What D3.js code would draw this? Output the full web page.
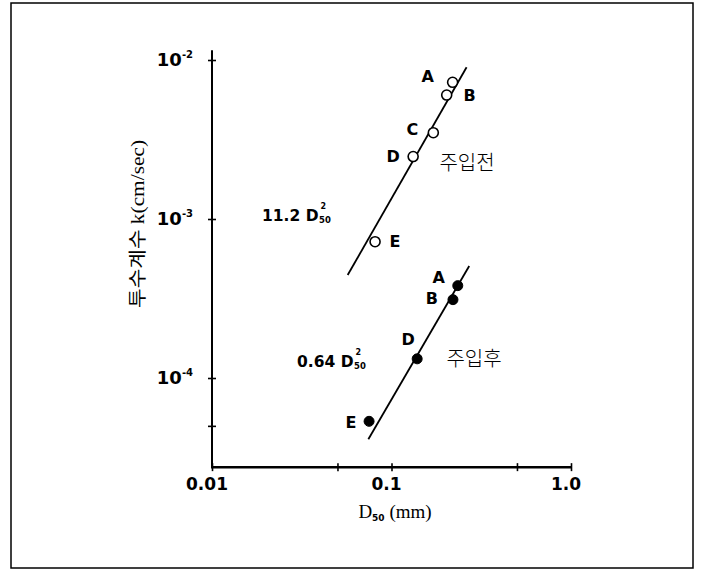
<!DOCTYPE html>
<html>
<head>
<meta charset="utf-8">
<script src="https://cdn.jsdelivr.net/npm/d3@7"></script>
<style>
  html, body { margin: 0; padding: 0; background: #fff; }
  svg { display: block; }
</style>
</head>
<body>
<svg id="chart" width="704" height="576"></svg>
<script>
// ---------- data ----------
const xTickValues = [0.01, 0.05, 0.1, 0.5, 1.0];
const xTickLabels = ["0.01", "", "0.1", "", "1.0"];
const yTickValues = [1e-2, 1e-3, 1e-4, 5e-5];
const yTickExponents = ["-2", "-3", "-4", ""];
const xExtent = [0.01, 1.0];
const yExtent = [2.75e-5, 1.15e-2];

const beforeLabels = ["A", "B", "C", "D", "E"];
const beforeD50 = [0.219, 0.203, 0.171, 0.132, 0.081];
const beforeK = [7.24e-3, 6.02e-3, 3.49e-3, 2.47e-3, 7.2e-4];

const afterLabels = ["A", "B", "D", "E"];
const afterD50 = [0.234, 0.220, 0.139, 0.075];
const afterK = [3.81e-4, 3.11e-4, 1.32e-4, 5.34e-5];

const fitBeforeD50 = [0.057, 0.262];
const fitBeforeK = [4.44e-4, 9.0e-3];
const fitAfterD50 = [0.0743, 0.271];
const fitAfterK = [4.12e-5, 5.06e-4];

const groupNames = ["주입전", "주입후"];
const fitCoefs = ["11.2", "0.64"];
const xTitle = ["D", "50", " (mm)"];
const yTitle = "투수계수 k(cm/sec)";

// ---------- layout (styling / label placement) ----------
const beforeLabelOffsets = {A: [-25, -6], B: [23, 0], C: [-21, -3], D: [-20, 0], E: [20, 0]};
const afterLabelOffsets = {A: [-19, -8], B: [-21, -1], D: [-9, -20], E: [-18, 1]};

const svg = d3.select("#chart");
const sans = "'DejaVu Sans', sans-serif";
const serif = "'Liberation Serif', 'Noto Sans CJK KR', serif";

// frame
svg.append("rect").attr("x", 11).attr("y", 3).attr("width", 682).attr("height", 565)
  .attr("fill", "none").attr("stroke", "#000").attr("stroke-width", 1.5);

const x = d3.scaleLog().domain([0.01, 1]).range([212, 571]);
const y = d3.scaleLog().domain([1e-2, 1e-4]).range([60, 378]);

const x0 = x(xExtent[0]);
const yBase = y(yExtent[0]);

// axis lines
svg.append("line").attr("x1", x0).attr("x2", x0).attr("y1", y(yExtent[1])).attr("y2", yBase)
  .attr("stroke", "#000").attr("stroke-width", 2);
svg.append("line").attr("x1", x0 - 1).attr("x2", x(xExtent[1])).attr("y1", yBase).attr("y2", yBase)
  .attr("stroke", "#000").attr("stroke-width", 2.5);

// y axis ticks
const yAxis = d3.axisLeft(y).tickValues(yTickValues).tickFormat("").tickSizeOuter(0).tickSizeInner(4);
const gy = svg.append("g").attr("transform", `translate(${x0},0)`).call(yAxis);
gy.select(".domain").remove();
gy.selectAll(".tick line").attr("x1", -4).attr("x2", 4).attr("stroke", "#000").attr("stroke-width", 1.6);

// y tick labels
yTickValues.forEach((v, i) => {
  if (!yTickExponents[i]) return;
  const t = svg.append("text").attr("x", 193).attr("y", y(v) + 6)
    .attr("text-anchor", "end").attr("font-family", sans).attr("font-weight", "bold")
    .attr("font-size", 18).attr("fill", "#000");
  t.append("tspan").text("10");
  t.append("tspan").attr("font-size", 10).attr("dy", -8).text(yTickExponents[i]);
});

// x axis ticks
const xAxis = d3.axisBottom(x).tickValues(xTickValues).tickFormat("").tickSizeOuter(0).tickSizeInner(4);
const gx = svg.append("g").attr("transform", `translate(0,${yBase})`).call(xAxis);
gx.select(".domain").remove();
gx.selectAll(".tick line").attr("y1", -4).attr("y2", 4).attr("stroke", "#000").attr("stroke-width", 1.6);

xTickValues.forEach((v, i) => {
  if (!xTickLabels[i]) return;
  svg.append("text").attr("x", x(v) - 5).attr("y", 490)
    .attr("text-anchor", "middle").attr("font-family", sans).attr("font-weight", "bold")
    .attr("font-size", 17).attr("fill", "#000").text(xTickLabels[i]);
});

// axis titles
const xt = svg.append("text").attr("x", 395).attr("y", 518).attr("text-anchor", "middle")
  .attr("fill", "#000");
xt.append("tspan").attr("font-family", serif).attr("font-size", 19).text(xTitle[0]);
xt.append("tspan").attr("font-family", sans).attr("font-weight", "bold").attr("font-size", 9)
  .attr("dy", 3).text(xTitle[1]);
xt.append("tspan").attr("font-family", serif).attr("font-size", 19).attr("dy", -3)
  .text(xTitle[2]);

svg.append("text").attr("transform", "translate(144,224) rotate(-90)")
  .attr("text-anchor", "middle").attr("font-family", serif).attr("font-size", 18)
  .attr("textLength", 168).attr("lengthAdjust", "spacingAndGlyphs")
  .attr("fill", "#000").text(yTitle);

// fit lines
const line = d3.line().x(d => x(d[0])).y(d => y(d[1]));
svg.append("path").datum(fitBeforeD50.map((d, i) => [d, fitBeforeK[i]]))
  .attr("d", line).attr("fill", "none").attr("stroke", "#000").attr("stroke-width", 1.8);
svg.append("path").datum(fitAfterD50.map((d, i) => [d, fitAfterK[i]]))
  .attr("d", line).attr("fill", "none").attr("stroke", "#000").attr("stroke-width", 1.8);

// points
const before = beforeLabels.map((l, i) => ({l, d: beforeD50[i], k: beforeK[i]}));
const after = afterLabels.map((l, i) => ({l, d: afterD50[i], k: afterK[i]}));

svg.append("g").selectAll("circle").data(before).join("circle")
  .attr("cx", d => x(d.d)).attr("cy", d => y(d.k)).attr("r", 5)
  .attr("fill", "#fff").attr("stroke", "#000").attr("stroke-width", 1.6);
svg.append("g").selectAll("circle").data(after).join("circle")
  .attr("cx", d => x(d.d)).attr("cy", d => y(d.k)).attr("r", 5)
  .attr("fill", "#000").attr("stroke", "#000").attr("stroke-width", 1);

function pointLabels(data, offsets) {
  svg.append("g").selectAll("text").data(data).join("text")
    .attr("x", d => x(d.d) + offsets[d.l][0])
    .attr("y", d => y(d.k) + offsets[d.l][1])
    .attr("dy", "0.36em").attr("text-anchor", "middle")
    .attr("font-family", sans).attr("font-weight", "bold").attr("font-size", 16)
    .attr("fill", "#000").text(d => d.l);
}
pointLabels(before, beforeLabelOffsets);
pointLabels(after, afterLabelOffsets);

// group names
svg.append("text").attr("x", 467).attr("y", 163).attr("dy", "0.36em").attr("text-anchor", "middle")
  .attr("font-family", "'Noto Sans CJK KR', sans-serif").attr("font-weight", 300)
  .attr("font-size", 20).attr("fill", "#000").text(groupNames[0]);
svg.append("text").attr("x", 474).attr("y", 359).attr("dy", "0.36em").attr("text-anchor", "middle")
  .attr("font-family", "'Noto Sans CJK KR', sans-serif").attr("font-weight", 300)
  .attr("font-size", 20).attr("fill", "#000").text(groupNames[1]);

// fit formulas
function formula(coef, px, py) {
  const t = svg.append("text").attr("x", px).attr("y", py)
    .attr("font-family", sans).attr("font-weight", "bold").attr("font-size", 15.5)
    .attr("fill", "#000").text(coef + " D");
  const w = t.node().getComputedTextLength();
  svg.append("text").attr("x", px + w + 2).attr("y", py - 12)
    .attr("font-family", sans).attr("font-weight", "bold").attr("font-size", 8)
    .attr("fill", "#000").text("2");
  svg.append("text").attr("x", px + w + 0.5).attr("y", py + 2)
    .attr("font-family", sans).attr("font-weight", "bold").attr("font-size", 8.5)
    .attr("fill", "#000").text("50");
}
formula(fitCoefs[0], 262, 221);
formula(fitCoefs[1], 297, 367);
</script>
</body>
</html>
